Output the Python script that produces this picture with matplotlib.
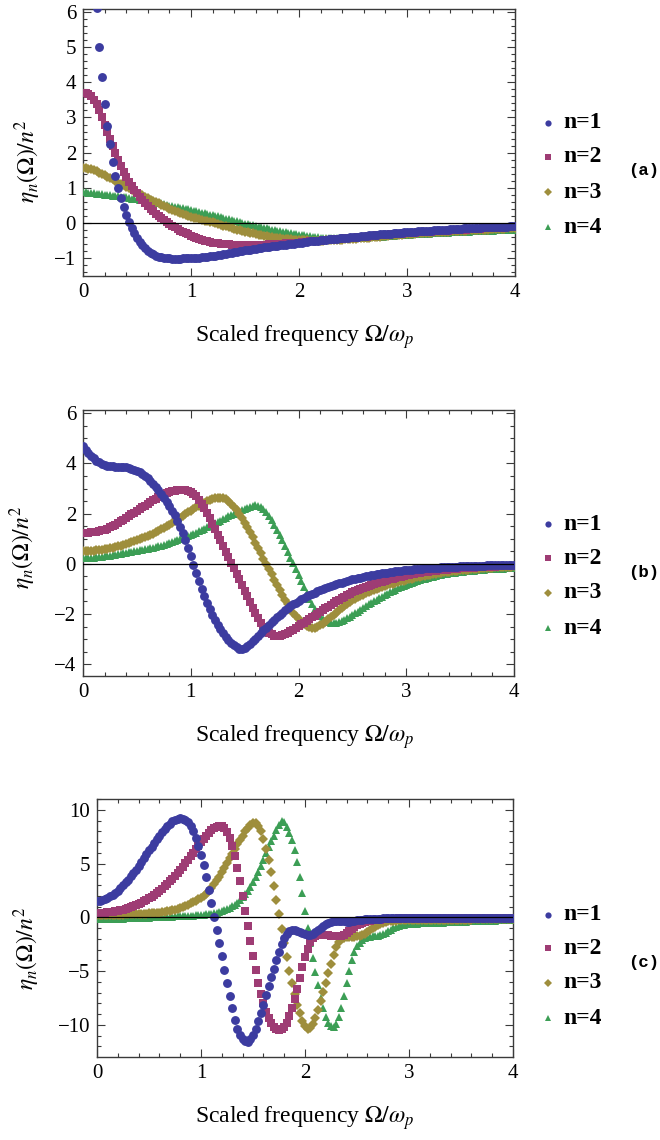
import numpy as np
import matplotlib
matplotlib.use("Agg")
import matplotlib.pyplot as plt
from matplotlib.ticker import MultipleLocator
from matplotlib.lines import Line2D

plt.rcParams['font.family'] = ['Liberation Serif', 'DejaVu Serif']
plt.rcParams['mathtext.fontset'] = 'stix'

# sampling grid of scaled frequency Omega/omega_p
omega = np.round(np.arange(161) * 0.025, 3)

labels = ["n=1", "n=2", "n=3", "n=4"]
panel_tags = ["(a)", "(b)", "(c)"]

# ---------------- panel (a) ----------------
a_n1 = [80, 40, 20, 12, 8.0, 6.1, 5.0, 4.15, 3.38, 2.75,
        2.25, 1.73, 1.35, 1.0, 0.71, 0.45, 0.22, 0.03, -0.13, -0.28,
        -0.41, -0.53, -0.62, -0.71, -0.78, -0.84, -0.88, -0.92, -0.95, -0.97,
        -0.99, -1.0, -1.0, -1.01, -1.01, -1.01, -1.01, -1.0, -1.0, -1.0,
        -1.0, -0.99, -0.99, -0.98, -0.97, -0.96, -0.95, -0.94, -0.93, -0.92,
        -0.91, -0.89, -0.88, -0.87, -0.86, -0.84, -0.83, -0.82, -0.8, -0.79,
        -0.77, -0.76, -0.75, -0.74, -0.72, -0.71, -0.7, -0.69, -0.68, -0.67,
        -0.66, -0.65, -0.64, -0.63, -0.62, -0.61, -0.6, -0.59, -0.58, -0.57,
        -0.56, -0.55, -0.54, -0.53, -0.52, -0.51, -0.51, -0.5, -0.49, -0.48,
        -0.47, -0.46, -0.45, -0.45, -0.44, -0.43, -0.42, -0.42, -0.41, -0.4,
        -0.39, -0.39, -0.38, -0.37, -0.36, -0.36, -0.35, -0.34, -0.34, -0.33,
        -0.32, -0.32, -0.31, -0.3, -0.3, -0.29, -0.28, -0.28, -0.27, -0.26,
        -0.26, -0.25, -0.25, -0.24, -0.23, -0.23, -0.22, -0.22, -0.21, -0.21,
        -0.2, -0.2, -0.19, -0.19, -0.18, -0.18, -0.17, -0.17, -0.16, -0.16,
        -0.16, -0.15, -0.15, -0.14, -0.14, -0.14, -0.13, -0.13, -0.12, -0.12,
        -0.12, -0.11, -0.11, -0.11, -0.1, -0.1, -0.1, -0.1, -0.09, -0.09,
        -0.09]
a_n2 = [3.7, 3.69, 3.66, 3.6, 3.5, 3.37, 3.2, 3.0, 2.8, 2.6,
        2.4, 2.2, 2.0, 1.8, 1.62, 1.45, 1.3, 1.18, 1.06, 0.95,
        0.85, 0.75, 0.66, 0.57, 0.49, 0.41, 0.34, 0.27, 0.2, 0.14,
        0.08, 0.03, -0.02, -0.07, -0.12, -0.16, -0.21, -0.25, -0.29, -0.32,
        -0.36, -0.39, -0.42, -0.45, -0.48, -0.5, -0.52, -0.54, -0.55, -0.56,
        -0.57, -0.58, -0.59, -0.6, -0.6, -0.61, -0.61, -0.62, -0.62, -0.62,
        -0.62, -0.62, -0.62, -0.62, -0.62, -0.62, -0.61, -0.61, -0.61, -0.6,
        -0.6, -0.59, -0.59, -0.58, -0.58, -0.57, -0.57, -0.56, -0.56, -0.55,
        -0.55, -0.54, -0.54, -0.53, -0.52, -0.52, -0.51, -0.51, -0.5, -0.49,
        -0.48, -0.48, -0.47, -0.46, -0.45, -0.45, -0.44, -0.43, -0.43, -0.42,
        -0.42, -0.41, -0.4, -0.39, -0.39, -0.38, -0.37, -0.37, -0.36, -0.35,
        -0.35, -0.34, -0.33, -0.33, -0.32, -0.31, -0.31, -0.3, -0.3, -0.29,
        -0.29, -0.28, -0.27, -0.27, -0.26, -0.26, -0.25, -0.25, -0.24, -0.24,
        -0.23, -0.23, -0.22, -0.22, -0.21, -0.21, -0.2, -0.2, -0.2, -0.19,
        -0.19, -0.18, -0.18, -0.17, -0.17, -0.17, -0.16, -0.16, -0.15, -0.15,
        -0.15, -0.14, -0.14, -0.14, -0.13, -0.13, -0.13, -0.12, -0.12, -0.12,
        -0.12]
a_n3 = [1.58, 1.57, 1.55, 1.53, 1.5, 1.47, 1.43, 1.4, 1.36, 1.32,
        1.28, 1.24, 1.2, 1.15, 1.11, 1.07, 1.03, 0.99, 0.95, 0.91,
        0.87, 0.83, 0.79, 0.75, 0.71, 0.67, 0.63, 0.59, 0.56, 0.52,
        0.48, 0.45, 0.41, 0.38, 0.34, 0.31, 0.28, 0.25, 0.22, 0.2,
        0.18, 0.16, 0.14, 0.11, 0.09, 0.07, 0.05, 0.03, 0.02, 0.0,
        -0.02, -0.04, -0.07, -0.09, -0.12, -0.14, -0.16, -0.18, -0.2, -0.22,
        -0.24, -0.26, -0.28, -0.29, -0.31, -0.33, -0.34, -0.36, -0.37, -0.38,
        -0.39, -0.41, -0.42, -0.43, -0.44, -0.45, -0.46, -0.46, -0.47, -0.48,
        -0.48, -0.49, -0.49, -0.49, -0.5, -0.5, -0.5, -0.5, -0.5, -0.5,
        -0.49, -0.49, -0.49, -0.48, -0.48, -0.47, -0.47, -0.46, -0.46, -0.45,
        -0.45, -0.44, -0.43, -0.43, -0.42, -0.41, -0.41, -0.4, -0.39, -0.39,
        -0.38, -0.37, -0.37, -0.36, -0.35, -0.35, -0.34, -0.33, -0.33, -0.32,
        -0.31, -0.31, -0.3, -0.3, -0.29, -0.29, -0.28, -0.28, -0.27, -0.27,
        -0.26, -0.26, -0.25, -0.25, -0.24, -0.24, -0.23, -0.23, -0.23, -0.22,
        -0.22, -0.21, -0.21, -0.2, -0.2, -0.2, -0.19, -0.19, -0.18, -0.18,
        -0.18, -0.17, -0.17, -0.17, -0.16, -0.16, -0.16, -0.15, -0.15, -0.15,
        -0.15]
a_n4 = [0.88, 0.88, 0.87, 0.86, 0.85, 0.84, 0.83, 0.82, 0.81, 0.8,
        0.79, 0.78, 0.77, 0.76, 0.75, 0.74, 0.73, 0.72, 0.7, 0.69,
        0.68, 0.67, 0.65, 0.64, 0.63, 0.61, 0.6, 0.58, 0.57, 0.56,
        0.53, 0.52, 0.5, 0.49, 0.47, 0.46, 0.44, 0.42, 0.41, 0.39,
        0.37, 0.35, 0.34, 0.32, 0.3, 0.28, 0.26, 0.24, 0.22, 0.21,
        0.19, 0.17, 0.15, 0.13, 0.11, 0.09, 0.07, 0.05, 0.03, 0.01,
        -0.01, -0.03, -0.05, -0.06, -0.08, -0.1, -0.12, -0.14, -0.15, -0.17,
        -0.19, -0.2, -0.22, -0.23, -0.25, -0.26, -0.28, -0.29, -0.3, -0.32,
        -0.33, -0.34, -0.35, -0.36, -0.37, -0.38, -0.39, -0.4, -0.41, -0.41,
        -0.42, -0.42, -0.43, -0.43, -0.43, -0.43, -0.43, -0.43, -0.43, -0.43,
        -0.43, -0.42, -0.42, -0.42, -0.41, -0.41, -0.4, -0.4, -0.39, -0.39,
        -0.38, -0.38, -0.37, -0.37, -0.36, -0.36, -0.35, -0.35, -0.34, -0.34,
        -0.33, -0.33, -0.32, -0.32, -0.31, -0.31, -0.3, -0.3, -0.3, -0.29,
        -0.29, -0.28, -0.28, -0.28, -0.27, -0.27, -0.26, -0.26, -0.26, -0.25,
        -0.25, -0.25, -0.24, -0.24, -0.23, -0.23, -0.23, -0.22, -0.22, -0.22,
        -0.21, -0.21, -0.21, -0.2, -0.2, -0.2, -0.19, -0.19, -0.19, -0.18,
        -0.18]

# ---------------- panel (b) ----------------
b_n1 = [4.7, 4.55, 4.42, 4.3, 4.2, 4.11, 4.04, 3.98, 3.94, 3.91,
        3.89, 3.88, 3.87, 3.87, 3.86, 3.85, 3.84, 3.82, 3.79, 3.75,
        3.7, 3.64, 3.57, 3.49, 3.41, 3.31, 3.2, 3.07, 2.94, 2.8,
        2.64, 2.48, 2.3, 2.12, 1.93, 1.71, 1.47, 1.21, 0.93, 0.63,
        0.31, -0.03, -0.37, -0.69, -1.0, -1.29, -1.56, -1.81, -2.04, -2.24,
        -2.42, -2.59, -2.75, -2.9, -3.03, -3.15, -3.25, -3.33, -3.38, -3.38,
        -3.34, -3.27, -3.18, -3.08, -2.98, -2.87, -2.76, -2.65, -2.54, -2.43,
        -2.32, -2.22, -2.12, -2.03, -1.94, -1.85, -1.77, -1.69, -1.62, -1.55,
        -1.48, -1.42, -1.36, -1.3, -1.25, -1.2, -1.15, -1.1, -1.05, -1.01,
        -0.97, -0.93, -0.89, -0.85, -0.81, -0.78, -0.75, -0.71, -0.68, -0.65,
        -0.62, -0.6, -0.57, -0.55, -0.52, -0.5, -0.48, -0.46, -0.44, -0.42,
        -0.4, -0.38, -0.36, -0.35, -0.33, -0.32, -0.3, -0.29, -0.28, -0.26,
        -0.25, -0.24, -0.23, -0.22, -0.21, -0.2, -0.19, -0.18, -0.18, -0.17,
        -0.16, -0.16, -0.15, -0.14, -0.14, -0.13, -0.12, -0.12, -0.11, -0.11,
        -0.1, -0.1, -0.09, -0.09, -0.09, -0.08, -0.08, -0.07, -0.07, -0.07,
        -0.06, -0.06, -0.06, -0.06, -0.05, -0.05, -0.05, -0.05, -0.04, -0.04,
        -0.04]
b_n2 = [1.24, 1.24, 1.24, 1.25, 1.26, 1.28, 1.3, 1.33, 1.36, 1.4,
        1.45, 1.5, 1.56, 1.62, 1.69, 1.76, 1.83, 1.9, 1.97, 2.04,
        2.11, 2.18, 2.25, 2.32, 2.39, 2.46, 2.53, 2.6, 2.66, 2.72,
        2.77, 2.82, 2.86, 2.9, 2.92, 2.94, 2.95, 2.95, 2.94, 2.91,
        2.86, 2.79, 2.69, 2.56, 2.4, 2.22, 2.02, 1.81, 1.59, 1.37,
        1.15, 0.93, 0.71, 0.49, 0.27, 0.05, -0.17, -0.39, -0.61, -0.84,
        -1.07, -1.3, -1.53, -1.76, -1.97, -2.17, -2.35, -2.51, -2.64, -2.74,
        -2.81, -2.86, -2.87, -2.86, -2.83, -2.79, -2.74, -2.68, -2.62, -2.55,
        -2.48, -2.41, -2.34, -2.27, -2.2, -2.13, -2.06, -1.99, -1.92, -1.85,
        -1.78, -1.71, -1.64, -1.57, -1.5, -1.44, -1.38, -1.32, -1.26, -1.2,
        -1.13, -1.08, -1.04, -0.99, -0.95, -0.91, -0.88, -0.84, -0.81, -0.77,
        -0.74, -0.71, -0.68, -0.65, -0.62, -0.59, -0.56, -0.53, -0.51, -0.48,
        -0.46, -0.44, -0.42, -0.4, -0.38, -0.36, -0.34, -0.33, -0.31, -0.3,
        -0.28, -0.27, -0.26, -0.25, -0.24, -0.23, -0.22, -0.21, -0.2, -0.19,
        -0.18, -0.17, -0.17, -0.16, -0.15, -0.15, -0.14, -0.14, -0.13, -0.13,
        -0.12, -0.12, -0.11, -0.11, -0.1, -0.1, -0.09, -0.09, -0.09, -0.08,
        -0.08]
b_n3 = [0.51, 0.51, 0.52, 0.52, 0.53, 0.54, 0.56, 0.57, 0.59, 0.61,
        0.63, 0.65, 0.68, 0.7, 0.73, 0.76, 0.79, 0.82, 0.86, 0.89,
        0.93, 0.97, 1.01, 1.05, 1.1, 1.15, 1.2, 1.25, 1.31, 1.37,
        1.43, 1.5, 1.56, 1.63, 1.7, 1.77, 1.84, 1.91, 1.98, 2.05,
        2.12, 2.19, 2.26, 2.32, 2.38, 2.44, 2.49, 2.54, 2.58, 2.61,
        2.63, 2.63, 2.61, 2.57, 2.5, 2.4, 2.28, 2.14, 1.99, 1.82,
        1.64, 1.45, 1.25, 1.05, 0.84, 0.63, 0.42, 0.21, 0.0, -0.21,
        -0.42, -0.63, -0.84, -1.04, -1.24, -1.43, -1.61, -1.78, -1.94, -2.08,
        -2.21, -2.32, -2.41, -2.48, -2.53, -2.55, -2.54, -2.5, -2.45, -2.38,
        -2.3, -2.21, -2.12, -2.03, -1.94, -1.85, -1.76, -1.68, -1.6, -1.53,
        -1.46, -1.4, -1.34, -1.28, -1.23, -1.18, -1.13, -1.08, -1.04, -1.0,
        -0.96, -0.92, -0.88, -0.85, -0.82, -0.79, -0.76, -0.73, -0.7, -0.67,
        -0.64, -0.61, -0.59, -0.56, -0.53, -0.51, -0.49, -0.47, -0.45, -0.43,
        -0.41, -0.39, -0.38, -0.36, -0.34, -0.33, -0.31, -0.3, -0.28, -0.27,
        -0.26, -0.25, -0.24, -0.23, -0.22, -0.21, -0.2, -0.19, -0.18, -0.17,
        -0.16, -0.16, -0.15, -0.14, -0.14, -0.13, -0.12, -0.12, -0.11, -0.11,
        -0.1]
b_n4 = [0.22, 0.22, 0.23, 0.24, 0.25, 0.26, 0.27, 0.28, 0.3, 0.31,
        0.33, 0.34, 0.36, 0.38, 0.4, 0.42, 0.44, 0.46, 0.48, 0.5,
        0.52, 0.54, 0.56, 0.58, 0.6, 0.62, 0.65, 0.67, 0.7, 0.73,
        0.76, 0.79, 0.82, 0.86, 0.89, 0.93, 0.97, 1.01, 1.05, 1.1,
        1.14, 1.19, 1.24, 1.29, 1.34, 1.39, 1.45, 1.5, 1.56, 1.61,
        1.67, 1.72, 1.78, 1.83, 1.89, 1.94, 1.99, 2.04, 2.09, 2.14,
        2.19, 2.24, 2.28, 2.31, 2.33, 2.32, 2.27, 2.19, 2.07, 1.92,
        1.75, 1.56, 1.36, 1.15, 0.93, 0.71, 0.48, 0.25, 0.02, -0.22,
        -0.46, -0.7, -0.94, -1.17, -1.39, -1.6, -1.79, -1.95, -2.09, -2.2,
        -2.27, -2.32, -2.34, -2.35, -2.34, -2.31, -2.27, -2.22, -2.16, -2.1,
        -2.04, -1.97, -1.9, -1.83, -1.76, -1.69, -1.62, -1.56, -1.49, -1.43,
        -1.37, -1.31, -1.25, -1.19, -1.13, -1.08, -1.03, -0.98, -0.93, -0.88,
        -0.84, -0.8, -0.76, -0.72, -0.68, -0.65, -0.62, -0.59, -0.56, -0.53,
        -0.51, -0.48, -0.46, -0.44, -0.42, -0.4, -0.38, -0.37, -0.35, -0.34,
        -0.32, -0.31, -0.3, -0.29, -0.28, -0.27, -0.26, -0.25, -0.24, -0.23,
        -0.22, -0.22, -0.21, -0.2, -0.2, -0.19, -0.19, -0.18, -0.18, -0.17,
        -0.17]

# ---------------- panel (c) ----------------
c_n1 = [1.5, 1.52, 1.6, 1.71, 1.84, 1.98, 2.13, 2.3, 2.5, 2.75,
        3.0, 3.26, 3.53, 3.82, 4.12, 4.45, 4.8, 5.16, 5.52, 5.88,
        6.23, 6.58, 6.93, 7.27, 7.6, 7.92, 8.22, 8.5, 8.74, 8.93,
        9.07, 9.17, 9.22, 9.19, 9.08, 8.88, 8.55, 8.05, 7.4, 6.65,
        5.85, 4.9, 3.8, 2.55, 1.3, 0.05, -1.15, -2.35, -3.6, -4.85,
        -6.1, -7.3, -8.45, -9.5, -10.35, -10.95, -11.3, -11.5, -11.55, -11.35,
        -10.95, -10.35, -9.65, -8.9, -8.1, -7.25, -6.4, -5.55, -4.75, -3.95,
        -3.2, -2.5, -1.95, -1.55, -1.3, -1.18, -1.17, -1.24, -1.35, -1.48,
        -1.58, -1.63, -1.6, -1.5, -1.35, -1.15, -0.95, -0.76, -0.6, -0.47,
        -0.38, -0.32, -0.3, -0.31, -0.34, -0.37, -0.39, -0.39, -0.37, -0.33,
        -0.28, -0.23, -0.19, -0.16, -0.14, -0.13, -0.12, -0.12, -0.11, -0.1,
        -0.09, -0.08, -0.08, -0.07, -0.07, -0.06, -0.06, -0.05, -0.05, -0.05,
        -0.04, -0.04, -0.04, -0.04, -0.03, -0.03, -0.03, -0.03, -0.03, -0.03,
        -0.03, -0.03, -0.03, -0.03, -0.03, -0.02, -0.02, -0.02, -0.02, -0.02,
        -0.02, -0.02, -0.02, -0.02, -0.02, -0.02, -0.02, -0.02, -0.02, -0.02,
        -0.02, -0.02, -0.02, -0.02, -0.01, -0.01, -0.01, -0.01, -0.01, -0.01,
        -0.01]
c_n2 = [0.4, 0.41, 0.42, 0.44, 0.47, 0.5, 0.54, 0.58, 0.63, 0.68,
        0.74, 0.8, 0.87, 0.95, 1.04, 1.14, 1.25, 1.37, 1.5, 1.64,
        1.79, 1.95, 2.12, 2.3, 2.49, 2.69, 2.9, 3.12, 3.35, 3.6,
        3.86, 4.13, 4.42, 4.72, 5.03, 5.35, 5.68, 6.01, 6.34, 6.67,
        6.99, 7.3, 7.6, 7.88, 8.12, 8.32, 8.46, 8.54, 8.5, 8.3,
        7.95, 7.4, 6.65, 5.7, 4.6, 3.35, 2.0, 0.6, -0.8, -2.2,
        -3.55, -4.85, -6.05, -7.1, -8.0, -8.75, -9.35, -9.85, -10.2, -10.42,
        -10.5, -10.42, -10.2, -9.8, -9.2, -8.45, -7.6, -6.65, -5.65, -4.65,
        -3.7, -2.9, -2.3, -1.93, -1.75, -1.67, -1.64, -1.63, -1.64, -1.66,
        -1.68, -1.7, -1.72, -1.72, -1.7, -1.62, -1.48, -1.3, -1.1, -0.9,
        -0.73, -0.6, -0.5, -0.42, -0.36, -0.31, -0.27, -0.24, -0.21, -0.19,
        -0.17, -0.15, -0.13, -0.12, -0.11, -0.1, -0.09, -0.08, -0.08, -0.07,
        -0.07, -0.06, -0.06, -0.06, -0.05, -0.05, -0.05, -0.05, -0.04, -0.04,
        -0.04, -0.04, -0.04, -0.04, -0.04, -0.04, -0.03, -0.03, -0.03, -0.03,
        -0.03, -0.03, -0.03, -0.03, -0.03, -0.03, -0.03, -0.03, -0.03, -0.03,
        -0.03, -0.03, -0.03, -0.02, -0.02, -0.02, -0.02, -0.02, -0.02, -0.02,
        -0.02]
c_n3 = [0.23, 0.23, 0.23, 0.24, 0.24, 0.24, 0.25, 0.25, 0.26, 0.26,
        0.27, 0.28, 0.28, 0.29, 0.3, 0.31, 0.32, 0.33, 0.34, 0.36,
        0.37, 0.39, 0.41, 0.43, 0.46, 0.49, 0.53, 0.57, 0.62, 0.67,
        0.73, 0.8, 0.88, 0.97, 1.07, 1.18, 1.3, 1.43, 1.57, 1.68,
        1.8, 1.98, 2.18, 2.45, 2.75, 3.08, 3.45, 3.8, 4.2, 4.6,
        5.05, 5.5, 5.95, 6.38, 6.8, 7.22, 7.62, 8.0, 8.35, 8.6,
        8.75, 8.75, 8.5, 8.0, 7.3, 6.4, 5.35, 4.2, 2.95, 1.65,
        0.3, -1.05, -2.4, -3.7, -4.95, -6.1, -7.15, -8.1, -8.9, -9.6,
        -10.1, -10.35, -10.3, -9.95, -9.35, -8.6, -7.8, -6.95, -6.1, -5.2,
        -4.3, -3.45, -2.75, -2.25, -2.0, -1.9, -1.85, -1.82, -1.8, -1.78,
        -1.75, -1.7, -1.63, -1.52, -1.38, -1.2, -1.02, -0.85, -0.7, -0.58,
        -0.49, -0.42, -0.37, -0.34, -0.31, -0.29, -0.28, -0.27, -0.26, -0.25,
        -0.25, -0.24, -0.24, -0.24, -0.23, -0.23, -0.23, -0.22, -0.22, -0.22,
        -0.22, -0.21, -0.21, -0.21, -0.21, -0.2, -0.2, -0.2, -0.2, -0.2,
        -0.19, -0.19, -0.19, -0.19, -0.19, -0.18, -0.18, -0.18, -0.18, -0.18,
        -0.18, -0.17, -0.17, -0.17, -0.17, -0.17, -0.16, -0.16, -0.16, -0.16,
        -0.16]
c_n4 = [-0.15, -0.15, -0.14, -0.14, -0.13, -0.13, -0.12, -0.12, -0.11, -0.1,
        -0.1, -0.09, -0.08, -0.08, -0.07, -0.06, -0.05, -0.04, -0.03, -0.02,
        -0.01, 0.0, 0.01, 0.02, 0.03, 0.04, 0.05, 0.06, 0.07, 0.08,
        0.09, 0.1, 0.11, 0.12, 0.13, 0.15, 0.16, 0.18, 0.2, 0.22,
        0.25, 0.27, 0.3, 0.33, 0.36, 0.4, 0.45, 0.51, 0.58, 0.66,
        0.76, 0.88, 1.02, 1.18, 1.37, 1.6, 1.86, 2.16, 2.5, 2.88,
        3.3, 3.75, 4.25, 4.8, 5.38, 5.97, 6.55, 7.1, 7.62, 8.1,
        8.6, 8.95, 8.9, 8.45, 7.9, 7.2, 6.3, 5.2, 3.8, 2.25,
        0.6, -0.95, -2.4, -3.75, -5.05, -6.3, -7.45, -8.45, -9.25, -9.8,
        -10.1, -10.15, -9.9, -9.3, -8.4, -7.3, -6.1, -4.95, -4.0, -3.25,
        -2.7, -2.35, -2.1, -1.95, -1.85, -1.78, -1.74, -1.72, -1.7, -1.65,
        -1.55, -1.42, -1.27, -1.12, -0.98, -0.87, -0.78, -0.72, -0.67, -0.63,
        -0.6, -0.59, -0.58, -0.57, -0.56, -0.55, -0.54, -0.53, -0.52, -0.51,
        -0.5, -0.49, -0.48, -0.47, -0.46, -0.45, -0.44, -0.43, -0.42, -0.41,
        -0.4, -0.39, -0.38, -0.37, -0.36, -0.35, -0.34, -0.34, -0.33, -0.32,
        -0.31, -0.3, -0.3, -0.29, -0.28, -0.28, -0.27, -0.26, -0.26, -0.25,
        -0.25]

panels = [
    dict(series=[a_n1, a_n2, a_n3, a_n4], ylim=(-1.5, 6.08), ymaj=1, ymin=0.2,
         rect=(83, 9, 515, 276), legend_y=[123, 157, 192, 227], tag_y=170,
         ylab=(-0.127, 0.43), xlab_y=337),
    dict(series=[b_n1, b_n2, b_n3, b_n4], ylim=(-4.47, 6.13), ymaj=2, ymin=0.5,
         rect=(83, 410, 514, 676), legend_y=[524, 558, 593, 628], tag_y=573,
         ylab=(-0.139, 0.485), xlab_y=737),
    dict(series=[c_n1, c_n2, c_n3, c_n4], ylim=(-12.98, 11.02), ymaj=5, ymin=1,
         rect=(97, 799, 513, 1057), legend_y=[915, 948, 983, 1018], tag_y=962,
         ylab=(-0.168, 0.42), xlab_y=1118),
]

colors = ["#3C3CA0", "#9E3C74", "#9E8E3C", "#3C9E55"]
markers = ["o", "s", "D", "^"]
msizes = [6.4, 5.3, 5.4, 6.4]

W, H = 660, 1140
fig = plt.figure(figsize=(W / 100, H / 100), dpi=100)
frame_col = "#3a3a3a"

for p, tag in zip(panels, panel_tags):
    l, t, r, b = p["rect"]
    ax = fig.add_axes([l / W, 1 - b / H, (r - l) / W, (b - t) / H])
    for k in range(4):
        ax.plot(omega, p["series"][k], linestyle="none", marker=markers[k],
                ms=msizes[k], color=colors[k], markeredgewidth=0,
                zorder=10 - k, clip_on=True)
    ax.axhline(0, color="black", lw=0.9, zorder=20)
    ax.set_xlim(0, 4)
    ax.set_ylim(*p["ylim"])
    ax.xaxis.set_major_locator(MultipleLocator(1))
    ax.xaxis.set_minor_locator(MultipleLocator(0.2))
    ax.yaxis.set_major_locator(MultipleLocator(p["ymaj"]))
    ax.yaxis.set_minor_locator(MultipleLocator(p["ymin"]))
    ax.tick_params(which="both", direction="in", top=True, right=True,
                   color=frame_col, width=0.8)
    ax.tick_params(which="major", length=5.5, labelsize=15, pad=5)
    ax.tick_params(which="minor", length=2.8)
    for s in ax.spines.values():
        s.set_color(frame_col)
        s.set_linewidth(1.0)
    ax.text(p["ylab"][0], p["ylab"][1], r"$\eta_n(\Omega)/n^2$", rotation=90,
            transform=ax.transAxes, ha="center", va="center", fontsize=17)
    fig.text(305 / W, 1 - p["xlab_y"] / H, r"Scaled frequency $\Omega/\omega_p$",
             ha="center", va="center", fontsize=17)
    for k in range(4):
        yy = 1 - p["legend_y"][k] / H
        fig.add_artist(Line2D([548 / W], [yy], transform=fig.transFigure,
                              marker=markers[k], ms=msizes[k] * 0.7,
                              color=colors[k], markeredgewidth=0,
                              linestyle="none"))
        fig.text(563 / W, yy, labels[k], ha="left", va="center",
                 fontsize=17, fontweight="bold")
    fig.text(628 / W, 1 - p["tag_y"] / H, tag, ha="left", va="center",
             fontsize=12.5, fontweight="bold",
             family=["Liberation Mono", "DejaVu Sans Mono"])

fig.savefig("out.png", dpi=100)
